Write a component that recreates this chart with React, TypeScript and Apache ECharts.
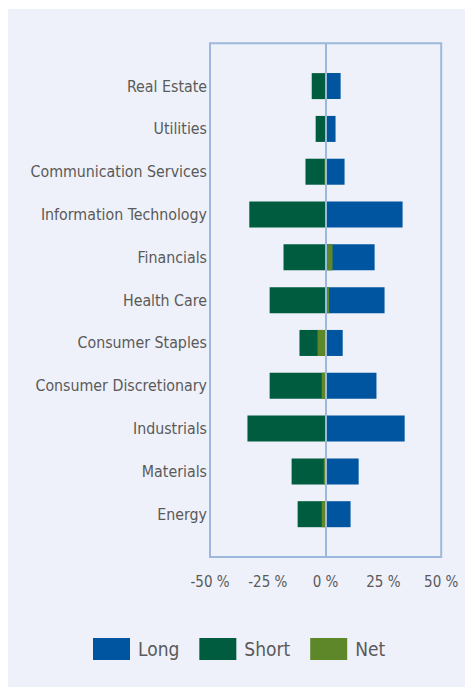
import React, { useEffect, useRef } from "react";
import * as echarts from "echarts";

const categories = [
  "Real Estate",
  "Utilities",
  "Communication Services",
  "Information Technology",
  "Financials",
  "Health Care",
  "Consumer Staples",
  "Consumer Discretionary",
  "Industrials",
  "Materials",
  "Energy",
];
const longValues = [6.5, 4.3, 8.2, 33.3, 21.2, 25.5, 7.4, 22.0, 34.2, 14.3, 10.8];
const shortValues = [-6.0, -4.3, -8.7, -33.0, -18.2, -24.2, -11.3, -24.2, -33.8, -14.7, -12.1];
const netValues = [0.4, 0.0, -0.5, 0.3, 3.0, 1.5, -3.5, -1.7, 0.4, -0.8, -1.7];
const xTicks = { min: -50, max: 50, interval: 25 };

const FONT = "'DejaVu Sans Condensed', 'DejaVu Sans', sans-serif";
const TEXT = "#5a5a5a";

export default function App() {
  const ref = useRef<HTMLDivElement>(null);
  useEffect(() => {
    if (!ref.current) return;
    const chart = echarts.init(ref.current, null, { renderer: "svg" });
    const pad = (arr: number[]) => [null, ...arr, null];
    const yCats = ["", ...categories, ""];
    chart.setOption({
      animation: false,
      backgroundColor: "#eef1f9",
      textStyle: { fontFamily: FONT },
      grid: {
        left: 202,
        right: 23.8,
        top: 34.3,
        bottom: 130,
        show: true,
        borderColor: "#9cb8dc",
        borderWidth: 2,
        backgroundColor: "transparent",
      },
      xAxis: {
        type: "value",
        min: xTicks.min,
        max: xTicks.max,
        interval: xTicks.interval,
        axisLine: { show: false },
        axisTick: { show: false },
        splitLine: { show: false },
        axisLabel: {
          formatter: "{value} %",
          color: TEXT,
          fontSize: 15,
          fontFamily: FONT,
          margin: 17,
        },
      },
      yAxis: {
        type: "category",
        data: yCats,
        inverse: true,
        boundaryGap: false,
        axisLine: { show: false },
        axisTick: { show: false },
        splitLine: { show: false },
        axisLabel: {
          color: TEXT,
          fontSize: 15.8,
          fontFamily: FONT,
          margin: 3,
          interval: 0,
        },
      },
      legend: {
        left: 85,
        top: 629,
        padding: 0,
        itemWidth: 37,
        itemHeight: 22,
        itemGap: 20,
        icon: "rect",
        data: ["Long", "Short", "Net"],
        textStyle: { color: TEXT, fontSize: 19, fontFamily: FONT, padding: [0, 0, 0, 3] },
      },
      series: [
        {
          name: "Long",
          type: "bar",
          data: pad(longValues),
          barWidth: 26,
          barGap: "-100%",
          itemStyle: { color: "#0055a1" },
          markLine: {
            silent: true,
            symbol: "none",
            label: { show: false },
            lineStyle: { color: "#9cb8dc", width: 2, type: "solid" },
            data: [{ xAxis: 0 }],
            z: 10,
          },
        },
        {
          name: "Short",
          type: "bar",
          data: pad(shortValues),
          barWidth: 26,
          barGap: "-100%",
          itemStyle: { color: "#005c3f" },
        },
        {
          name: "Net",
          type: "bar",
          data: pad(netValues),
          barWidth: 26,
          barGap: "-100%",
          itemStyle: { color: "#5d8729" },
        },
      ],
    });
    return () => chart.dispose();
  }, []);
  return (
    <div
      ref={ref}
      style={{ position: "fixed", left: 8, top: 9, width: 457, height: 678 }}
    />
  );
}
